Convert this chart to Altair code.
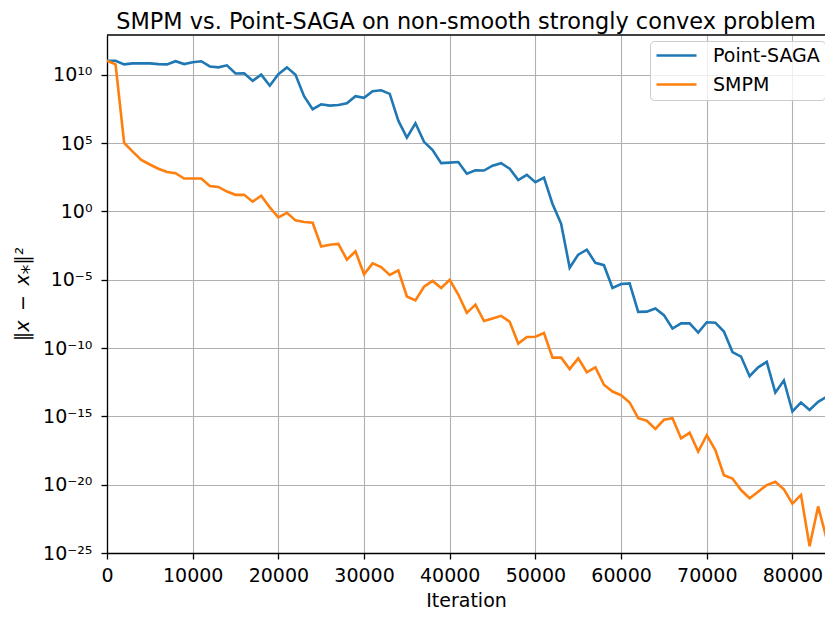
import altair as alt
import pandas as pd

# ---------------- data ----------------
iterations = list(range(0, 86000, 1000))

point_saga_log10 = [
    11.03, 11.03, 10.77, 10.84, 10.84, 10.84, 10.79, 10.77, 11.0, 10.79,
    10.93, 11.0, 10.62, 10.55, 10.7, 10.1, 10.12, 9.57, 10.02, 9.21,
    10.05, 10.55, 10.0, 8.44, 7.49, 7.85, 7.75, 7.8, 7.92, 8.44,
    8.32, 8.8, 8.87, 8.61, 6.65, 5.41, 6.46, 5.1, 4.5, 3.54,
    3.58, 3.62, 2.77, 3.01, 3.0, 3.35, 3.54, 3.13, 2.3, 2.68,
    2.15, 2.48, 0.55, -0.89, -4.12, -3.16, -2.8, -3.76, -3.93, -5.6,
    -5.31, -5.26, -7.35, -7.33, -7.1, -7.59, -8.57, -8.19, -8.19, -8.86,
    -8.11, -8.14, -8.79, -10.29, -10.62, -12.06, -11.41, -11.01, -13.26, -12.37,
    -14.64, -13.98, -14.53, -13.93, -13.57, -14.4,
]

smpm_log10 = [
    11.03, 10.77, 5.02, 4.38, 3.78, 3.44, 3.13, 2.89, 2.8, 2.41,
    2.41, 2.41, 1.87, 1.8, 1.46, 1.22, 1.22, 0.72, 1.15, 0.3,
    -0.43, -0.1, -0.65, -0.77, -0.82, -2.56, -2.44, -2.37, -3.52, -2.92,
    -4.6, -3.8, -4.07, -4.64, -4.31, -6.22, -6.51, -5.51, -5.08, -5.6,
    -5.0, -6.08, -7.42, -6.82, -8.02, -7.83, -7.64, -8.07, -9.67, -9.19,
    -9.17, -8.9, -10.7, -10.7, -11.54, -10.75, -11.77, -11.41, -12.68, -13.18,
    -13.45, -13.98, -15.13, -15.32, -15.92, -15.25, -15.13, -16.61, -16.2, -17.57,
    -16.37, -17.47, -19.31, -19.55, -20.39, -20.99, -20.51, -20.03, -19.79, -20.34,
    -21.39, -20.75, -24.51, -21.59, -23.98, -23.3,
]

series_names = ["Point-SAGA", "SMPM"]
series_colors = ["#1f77b4", "#ff7f0e"]

x_ticks = [0, 10000, 20000, 30000, 40000, 50000, 60000, 70000, 80000]
y_tick_exponents = [-25, -20, -15, -10, -5, 0, 5, 10]
_sup = str.maketrans("-0123456789", "⁻⁰¹²³⁴⁵⁶⁷⁸⁹")
y_tick_labels = ["10" + str(e).translate(_sup) for e in y_tick_exponents]

title_text = "SMPM vs. Point-SAGA on non-smooth strongly convex problem"
x_title = "Iteration"
y_title = "‖x\u2002−\u2002x⁎‖²"

# ---------------- build table ----------------
rows = []
for name, vals in zip(series_names, [point_saga_log10, smpm_log10]):
    for it, v in zip(iterations, vals):
        rows.append({"iteration": it, "err": 10.0 ** v, "method": name})
df = pd.DataFrame(rows)

label_expr = ""
for e, lab in zip(y_tick_exponents, y_tick_labels):
    label_expr += f"round(log(datum.value)/LN10) == {e} ? '{lab}' : "
label_expr += "''"

W, H = 718, 518
FONT = "DejaVu Sans"
FS = 19
LW = 2.6

lines = alt.Chart(df).mark_line(strokeWidth=LW, clip=True).encode(
    x=alt.X(
        "iteration:Q",
        scale=alt.Scale(domain=[0, 83800], nice=False, zero=False),
        axis=alt.Axis(
            values=x_ticks, format="d", title=x_title, labelFlush=False,
            labelFontSize=FS, titleFontSize=FS, labelPadding=7,
            titleY=53, titleBaseline="alphabetic",
        ),
    ),
    y=alt.Y(
        "err:Q",
        scale=alt.Scale(type="log", domain=[1e-25, 10 ** 12.92], nice=False),
        axis=alt.Axis(
            values=[10.0 ** e for e in y_tick_exponents], labelExpr=label_expr,
            title=y_title, labelFontSize=FS, titleFontSize=FS, labelPadding=9,
            labelFlush=False,
            titleAngle=270, titleX=-85, titleY=H / 2, titleAlign="center",
            titleBaseline="middle", titleFontStyle="italic",
        ),
    ),
    color=alt.Color(
        "method:N",
        scale=alt.Scale(domain=series_names, range=series_colors),
        legend=alt.Legend(
            title=None, orient="none", legendX=543, legendY=6,
            fillColor="rgba(255,255,255,0.8)", strokeColor="#cccccc",
            cornerRadius=4, padding=5, symbolType="stroke", symbolSize=1600,
            symbolStrokeWidth=LW, labelFontSize=FS, labelOffset=15,
            clipHeight=19, rowPadding=9, labelFont=FONT, labelColor="black",
        ),
    ),
)

frame_top = alt.Chart(pd.DataFrame({"k": [0]})).mark_rule(color="black", strokeWidth=1.3).encode(
    x=alt.value(0), x2=alt.value(W), y=alt.value(0)
)

chart = (
    alt.layer(lines, frame_top)
    .properties(
        width=W, height=H,
        title=alt.TitleParams(
            text=title_text, fontSize=22.4, font=FONT, fontWeight="normal",
            anchor="middle", color="black", offset=1.3,
        ),
        autosize=alt.AutoSizeParams(type="none"),
        padding={"left": 99, "top": 27, "right": 0, "bottom": 56},
    )
    .configure_view(stroke=None)
    .configure_axis(
        labelFont=FONT, titleFont=FONT, labelColor="black", titleColor="black",
        titleFontWeight="normal", domainColor="black", domainWidth=1.3,
        tickColor="black", tickSize=6, tickWidth=1.3,
        gridColor="#b0b0b0", gridWidth=1.1, grid=True,
    )
)

chart.save("out.html", embed_options={"renderer": "svg", "actions": False})
